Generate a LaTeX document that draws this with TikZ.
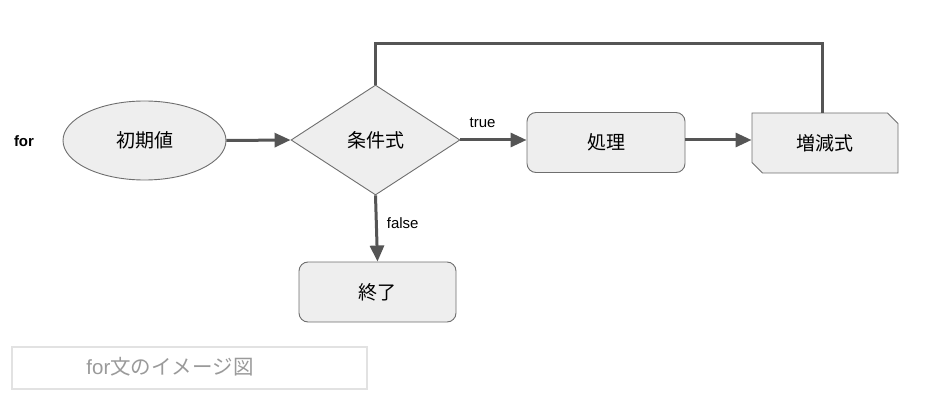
\documentclass[tikz,border=0pt]{standalone}
\usepackage{fontspec}
\setmainfont{Liberation Sans}
\newfontfamily\jp{Noto Sans CJK JP}
\usetikzlibrary{shapes.geometric,shapes.misc,arrows.meta}
\definecolor{boxfill}{HTML}{EEEEEE}
\definecolor{boxline}{HTML}{6E6E6E}
\definecolor{conn}{HTML}{555555}
\definecolor{capline}{HTML}{E2E2E2}
\definecolor{captext}{HTML}{9A9A9A}
\tikzset{
  shp/.style={draw=boxline, fill=boxfill, line width=0.9pt, inner sep=0pt, font=\jp\fontsize{19}{21}\selectfont},
  rbox/.style={shp, rectangle, rounded corners=9pt, minimum width=158pt, minimum height=60pt},
  conline/.style={draw=conn, line width=3pt},
  arr/.style={conline, -{Triangle[length=16pt,width=14pt]}},
  lbl/.style={font=\fontsize{15}{17}\selectfont, inner sep=0pt}
}
\begin{document}
\begin{tikzpicture}[x=1pt,y=-1pt]
\useasboundingbox (0,0) rectangle (942,398);
\node[font=\bfseries\fontsize{15}{17}\selectfont, inner sep=0pt] (forlbl) at (24,141) {for};
\node[shp, ellipse, minimum width=163pt, minimum height=79pt] (init) at (144.5,140.5) {初期値};
\node[shp, diamond, minimum width=169pt, minimum height=110pt] (cond) at (375.5,140) {条件式};
\node[rbox] (proc) at (606,142.5) {処理};
\node[shp, chamfered rectangle, chamfered rectangle corners={north east,south west}, chamfered rectangle xsep=7pt, minimum width=146pt, minimum height=60pt] (incr) at (825,143) {増減式};
\node[rbox, minimum width=157pt] (endn) at (377.5,292) {終了};
\node[draw=capline, line width=1.5pt, minimum width=355pt, minimum height=42pt, inner sep=0pt] (cap) at (189.5,368) {};
\node[text=captext, font=\fontsize{20.5}{22}\selectfont, inner sep=0pt] (captxt) at (170,367) {for{\jp 文のイメージ図}};
\coordinate (c1) at (822,44);
\coordinate (c2) at (375.5,44);
\draw[arr] (init.east) -- (cond.west);
\draw[arr] (cond.east) -- node[lbl, above=11pt, pos=0.336] (tlbl) {true} (proc.west |- cond.east);
\draw[arr] (proc.east |- cond.east) -- (incr.west |- cond.east);
\draw[conline] (incr.north -| c1) -- (c1) -- (c2) -- (cond.north);
\draw[arr] (cond.south) -- node[lbl, right=9pt, pos=0.42] (flbl) {false} (endn.north);
\end{tikzpicture}
\end{document}
